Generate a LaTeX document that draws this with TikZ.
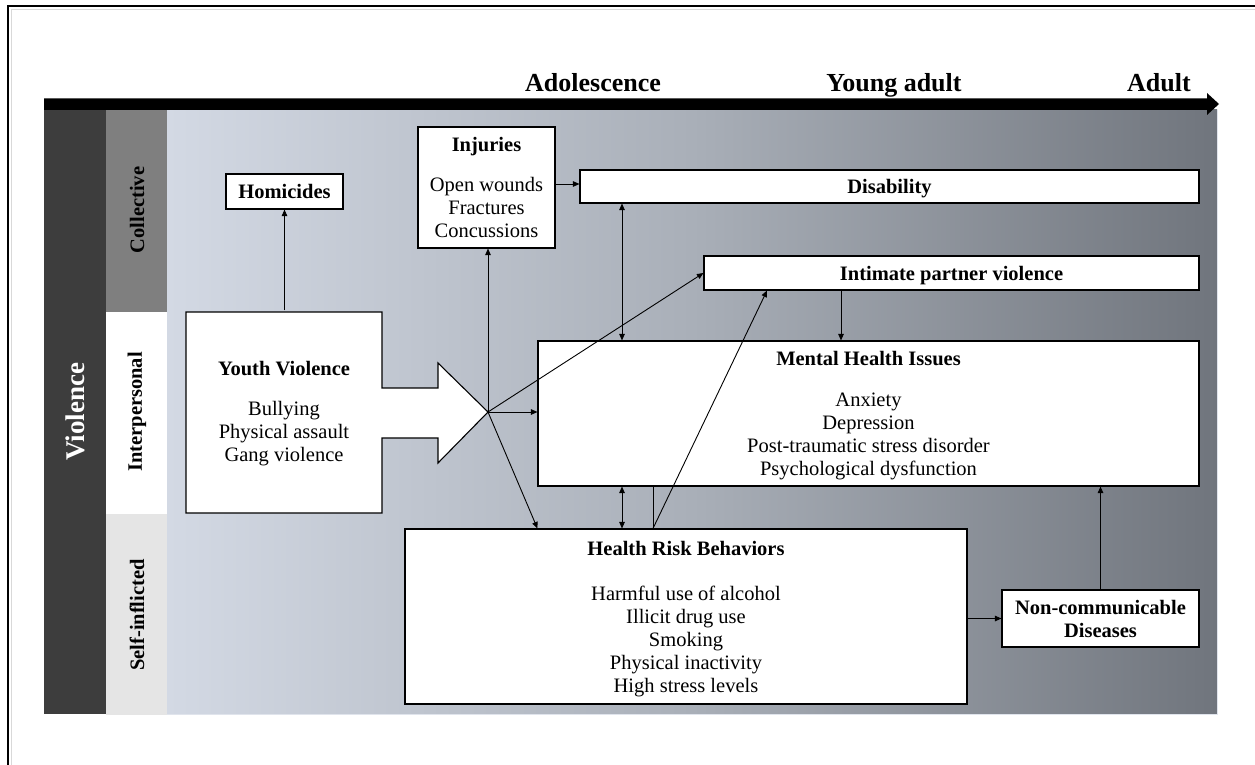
\documentclass[tikz,border=0pt]{standalone}
\usepackage{fontspec}
\setmainfont{Liberation Serif}
\usetikzlibrary{arrows.meta}
\definecolor{darkcol}{HTML}{3D3D3D}
\definecolor{midcol}{HTML}{7F7F7F}
\definecolor{lightcol}{HTML}{E5E5E5}
\definecolor{panelL}{HTML}{D3D9E4}
\definecolor{panelM}{HTML}{A9AFB8}
\definecolor{panelR}{HTML}{70757D}
\begin{document}
\begin{tikzpicture}[x=1pt,y=-1pt,
  txt/.style={font=\fontsize{20.5}{23}\selectfont,text depth=0pt},
  box/.style={txt,draw=black,line width=1.1pt,fill=white,inner sep=0pt,align=center},
  period/.style={font=\fontsize{26}{30}\selectfont\bfseries,anchor=base},
  side/.style={font=\fontsize{20.5}{23}\selectfont\bfseries,rotate=90},
  tip/.tip={Triangle[length=6.5pt,width=5.5pt]},
  arr/.style={line width=0.9pt,-tip},
  dbl/.style={line width=0.9pt,tip-tip},
  plain/.style={line width=0.9pt}
]
\useasboundingbox (0,0) rectangle (1255,765);

% page frame
\draw[black!15,line width=1pt] (11,765) -- (11,10) -- (1255,10);
\draw[black,line width=1.6pt] (8,765) -- (8,6) -- (1255,6);

% background bands
\shade[left color=panelL,right color=panelR,middle color=panelM] (167,110) rectangle (1217,714);
\draw[panelL!70!white,line width=0.8pt] (167,714) -- (1217,714) -- (1217,110);
\fill[darkcol] (44,110) rectangle (106,714);
\fill[midcol] (106,110) rectangle (167,312);
\fill[white] (106,312) rectangle (167,514);
\fill[lightcol] (106,514) rectangle (167,715);

% time axis
\fill[black] (44,98.5) -- (1207,98.5) -- (1207,93) -- (1219,104) -- (1207,115)
  -- (1207,110) -- (44,110) -- cycle;
\node[period] (adol) at (593,92) {Adolescence};
\node[period] (yadult) at (894,92) {Young adult};
\node[period] (adult) at (1159,92) {Adult};

% category labels
\node[side,text=white,font=\fontsize{27}{30}\selectfont\bfseries] (violence) at (75,412) {Violence};
\node[side] (collective) at (137,210) {Collective};
\node[side] (interpersonal) at (137,412) {Interpersonal};
\node[side] (selfinf) at (137,615) {Self-inflicted};

% youth violence block with its outgoing arrow
\draw[line width=1.1pt,fill=white] (186,312) -- (382,312) -- (382,388) -- (438,388) -- (438,363)
  -- (488,412) -- (438,463) -- (438,438) -- (382,438) -- (382,513) -- (186,513) -- cycle;
\node[txt,align=center,minimum width=196pt,minimum height=201pt,inner sep=0pt] (yv) at (284,411)
  {\textbf{Youth Violence}\\[17pt]Bullying\\Physical assault\\Gang violence};
\coordinate (hub) at (488,412);

% outcome boxes
\node[box,minimum width=117pt,minimum height=35pt] (homicides) at (284.5,191.5) {\textbf{Homicides}};
\node[box,minimum width=137pt,minimum height=121pt] (injuries) at (486.5,187.5)
  {\textbf{Injuries}\\[17pt]Open wounds\\Fractures\\Concussions};
\node[box,minimum width=619pt,minimum height=33pt] (disability) at (889.5,186.5) {\textbf{Disability}};
\node[box,minimum width=495pt,minimum height=34pt] (ipv) at (951.5,273) {\textbf{Intimate partner violence}};
\node[box,minimum width=661pt,minimum height=145pt] (mh) at (868.5,413.5)
  {\textbf{Mental Health Issues}\\[18pt]Anxiety\\Depression\\Post-traumatic stress disorder\\Psychological dysfunction};
\node[box,minimum width=562pt,minimum height=175pt] (hrb) at (686,616.5)
  {\textbf{Health Risk Behaviors}\\[22pt]Harmful use of alcohol\\Illicit drug use\\Smoking\\Physical inactivity\\High stress levels};
\node[box,minimum width=197pt,minimum height=57pt] (ncd) at (1100.5,618.5)
  {\textbf{Non-communicable}\\\textbf{Diseases}};

% guide columns for vertical connectors
\coordinate (c622) at (622,0);
\coordinate (c653) at (653,0);
\coordinate (c767) at (767,0);
\coordinate (c841) at (841,0);

% connectors
\draw[arr] (homicides.south |- yv.north) -- (homicides.south);
\draw[arr] (hub) -- (hub |- injuries.south);
\draw[arr] (hub) -- (hub -| mh.west);
\draw[arr] (hub) -- (ipv.west);
\draw[arr] (hub) -- (mh.west |- hrb.north);
\draw[arr] (injuries.east |- 0,184) -- (disability.west |- 0,184);
\draw[dbl] (c622 |- disability.south) -- (c622 |- mh.north);
\draw[dbl] (c622 |- mh.south) -- (c622 |- hrb.north);
\draw[plain] (c653 |- mh.south) -- (c653 |- hrb.north);
\draw[arr] (c653 |- hrb.north) -- (c767 |- ipv.south);
\draw[arr] (c841 |- ipv.south) -- (c841 |- mh.north);
\draw[arr] (hrb.east |- ncd.west) -- (ncd.west);
\draw[arr] (ncd.north) -- (ncd.north |- mh.south);
\end{tikzpicture}
\end{document}
